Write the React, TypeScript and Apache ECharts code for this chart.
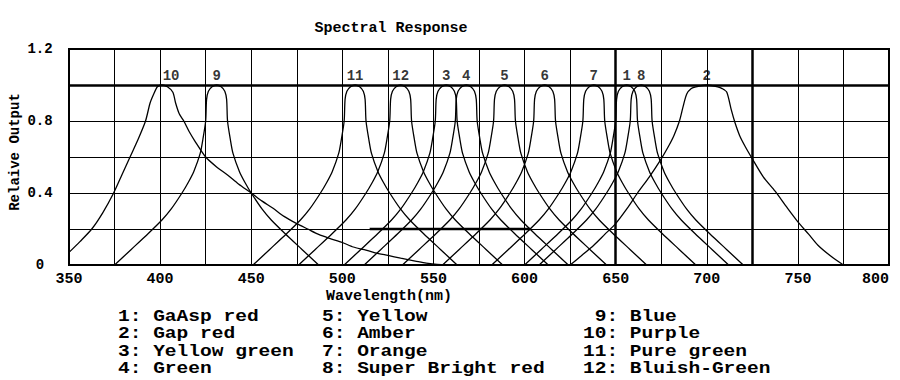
import React, { useEffect, useRef } from 'react';
import * as echarts from 'echarts';

const titleText = 'Spectral Response';
const xAxisName = 'Wavelength(nm)';
const yAxisName = 'Relaive Output';
const xLabelValues = [350, 400, 450, 500, 550, 600, 650, 700, 750, 800];
const yLabelValues = [0, 0.4, 0.8, 1.2];
const thickXLines = [650, 725];
const thickYLines = [1.0];
const plateauSegment: [number, number][] = [[515, 0.2], [603, 0.2]];

// curve points [wavelength nm, relative output]
const curve10: [number, number][] = [[350, 0.07], [356, 0.13], [362.5, 0.2], [368.5, 0.29], [374.5, 0.4], [379, 0.5], [383.5, 0.6], [388, 0.7], [392, 0.8], [394.5, 0.9], [396.5, 0.95], [398.5, 0.99], [401, 1], [404, 0.99], [407, 0.96], [408.5, 0.9], [410.5, 0.84], [413, 0.8], [416, 0.74], [419, 0.69], [425, 0.6], [431, 0.545], [437, 0.5], [443, 0.45], [450, 0.4], [456, 0.355], [462, 0.315], [468, 0.27], [475, 0.23], [481, 0.2], [487, 0.17], [493, 0.148], [500, 0.125], [506, 0.1], [512, 0.085], [518, 0.068], [525, 0.053], [532, 0.038], [540, 0.022], [546, 0.01], [552, 0.003], [567, 0]];
const curve9: [number, number][] = [[375, 0], [384, 0.085], [393.5, 0.175], [401, 0.25], [406, 0.31], [412, 0.4], [415.5, 0.46], [418.5, 0.52], [422, 0.62], [423.5, 0.7], [425, 0.8], [425.5, 0.92], [426.5, 0.965], [428.5, 0.99], [431, 1], [433.5, 0.99], [435.5, 0.965], [436.5, 0.92], [437, 0.8], [438.5, 0.7], [440, 0.62], [443.5, 0.52], [446.5, 0.46], [450, 0.4], [456, 0.31], [461, 0.25], [468.5, 0.175], [478, 0.085], [487, 0]];
const curve11: [number, number][] = [[451, 0], [460, 0.085], [469.5, 0.175], [477, 0.25], [482, 0.31], [488, 0.4], [491.5, 0.46], [494.5, 0.52], [498, 0.62], [499.5, 0.7], [501, 0.8], [501.5, 0.92], [502.5, 0.965], [504.5, 0.99], [507, 1], [509.5, 0.99], [511.5, 0.965], [512.5, 0.92], [513, 0.8], [514.5, 0.7], [516, 0.62], [519.5, 0.52], [522.5, 0.46], [526, 0.4], [532, 0.31], [537, 0.25], [544.5, 0.175], [554, 0.085], [563, 0]];
const curve12: [number, number][] = [[476, 0], [485, 0.085], [494.5, 0.175], [502, 0.25], [507, 0.31], [513, 0.4], [516.5, 0.46], [519.5, 0.52], [523, 0.62], [524.5, 0.7], [526, 0.8], [526.5, 0.92], [527.5, 0.965], [529.5, 0.99], [532, 1], [534.5, 0.99], [536.5, 0.965], [537.5, 0.92], [538, 0.8], [539.5, 0.7], [541, 0.62], [544.5, 0.52], [547.5, 0.46], [551, 0.4], [557, 0.31], [562, 0.25], [569.5, 0.175], [579, 0.085], [588, 0]];
const curve3: [number, number][] = [[501, 0], [510, 0.085], [519.5, 0.175], [527, 0.25], [532, 0.31], [538, 0.4], [541.5, 0.46], [544.5, 0.52], [548, 0.62], [549.5, 0.7], [551, 0.8], [551.5, 0.92], [552.5, 0.965], [554.5, 0.99], [557, 1], [559.5, 0.99], [561.5, 0.965], [562.5, 0.92], [563, 0.8], [564.5, 0.7], [566, 0.62], [569.5, 0.52], [572.5, 0.46], [576, 0.4], [582, 0.31], [587, 0.25], [594.5, 0.175], [604, 0.085], [613, 0]];
const curve4: [number, number][] = [[512, 0], [521, 0.085], [530.5, 0.175], [538, 0.25], [543, 0.31], [549, 0.4], [552.5, 0.46], [555.5, 0.52], [559, 0.62], [560.5, 0.7], [562, 0.8], [562.5, 0.92], [563.5, 0.965], [565.5, 0.99], [568, 1], [570.5, 0.99], [572.5, 0.965], [573.5, 0.92], [574, 0.8], [575.5, 0.7], [577, 0.62], [580.5, 0.52], [583.5, 0.46], [587, 0.4], [593, 0.31], [598, 0.25], [605.5, 0.175], [615, 0.085], [624, 0]];
const curve5: [number, number][] = [[533, 0], [542, 0.085], [551.5, 0.175], [559, 0.25], [564, 0.31], [570, 0.4], [573.5, 0.46], [576.5, 0.52], [580, 0.62], [581.5, 0.7], [583, 0.8], [583.5, 0.92], [584.5, 0.965], [586.5, 0.99], [589, 1], [591.5, 0.99], [593.5, 0.965], [594.5, 0.92], [595, 0.8], [596.5, 0.7], [598, 0.62], [601.5, 0.52], [604.5, 0.46], [608, 0.4], [614, 0.31], [619, 0.25], [626.5, 0.175], [636, 0.085], [645, 0]];
const curve6: [number, number][] = [[555, 0], [564, 0.085], [573.5, 0.175], [581, 0.25], [586, 0.31], [592, 0.4], [595.5, 0.46], [598.5, 0.52], [602, 0.62], [603.5, 0.7], [605, 0.8], [605.5, 0.92], [606.5, 0.965], [608.5, 0.99], [611, 1], [613.5, 0.99], [615.5, 0.965], [616.5, 0.92], [617, 0.8], [618.5, 0.7], [620, 0.62], [623.5, 0.52], [626.5, 0.46], [630, 0.4], [636, 0.31], [641, 0.25], [648.5, 0.175], [658, 0.085], [667, 0]];
const curve7: [number, number][] = [[582, 0], [591, 0.085], [600.5, 0.175], [608, 0.25], [613, 0.31], [619, 0.4], [622.5, 0.46], [625.5, 0.52], [629, 0.62], [630.5, 0.7], [632, 0.8], [632.5, 0.92], [633.5, 0.965], [635.5, 0.99], [638, 1], [640.5, 0.99], [642.5, 0.965], [643.5, 0.92], [644, 0.8], [645.5, 0.7], [647, 0.62], [650.5, 0.52], [653.5, 0.46], [657, 0.4], [663, 0.31], [668, 0.25], [675.5, 0.175], [685, 0.085], [694, 0]];
const curve1: [number, number][] = [[600, 0], [609, 0.085], [618.5, 0.175], [626, 0.25], [631, 0.31], [637, 0.4], [640.5, 0.46], [643.5, 0.52], [647, 0.62], [648.5, 0.7], [650, 0.8], [650.5, 0.92], [651.5, 0.965], [653.5, 0.99], [656, 1], [658.5, 0.99], [660.5, 0.965], [661.5, 0.92], [662, 0.8], [663.5, 0.7], [665, 0.62], [668.5, 0.52], [671.5, 0.46], [675, 0.4], [681, 0.31], [686, 0.25], [693.5, 0.175], [703, 0.085], [712, 0]];
const curve8: [number, number][] = [[608, 0], [617, 0.085], [626.5, 0.175], [634, 0.25], [639, 0.31], [645, 0.4], [648.5, 0.46], [651.5, 0.52], [655, 0.62], [656.5, 0.7], [658, 0.8], [658.5, 0.92], [659.5, 0.965], [661.5, 0.99], [664, 1], [666.5, 0.99], [668.5, 0.965], [669.5, 0.92], [670, 0.8], [671.5, 0.7], [673, 0.62], [676.5, 0.52], [679.5, 0.46], [683, 0.4], [689, 0.31], [694, 0.25], [701.5, 0.175], [711, 0.085], [720, 0]];
const curve2: [number, number][] = [[625, 0], [631, 0.05], [638, 0.11], [644, 0.17], [650, 0.23], [656, 0.31], [662, 0.4], [668.5, 0.49], [675, 0.59], [679, 0.66], [682, 0.72], [685, 0.8], [687, 0.88], [689, 0.95], [691.5, 0.98], [694, 0.99], [700, 1], [706, 0.99], [708.5, 0.98], [711, 0.96], [713.5, 0.86], [715.5, 0.79], [718, 0.72], [721, 0.66], [725, 0.59], [731, 0.49], [737.5, 0.41], [744, 0.32], [750, 0.24], [756, 0.17], [761, 0.11], [768, 0.05], [775, 0]];

const curves = [curve1, curve2, curve3, curve4, curve5, curve6, curve7, curve8, curve9, curve10, curve11, curve12];
const curveNames = ['GaAsp red', 'Gap red', 'Yellow green', 'Green', 'Yellow', 'Amber', 'Orange', 'Super Bright red', 'Blue', 'Purple', 'Pure green', 'Bluish-Green'];

const peakLabelText = ['10', '9', '11', '12', '3', '4', '5', '6', '7', '1', '8', '2'];
const peakLabelX = [406, 431, 507, 532, 557, 568, 589, 611, 638, 656, 664, 700];

const FONT = '"Liberation Mono", "Courier New", monospace';

export default function App() {
  const ref = useRef<HTMLDivElement>(null);
  useEffect(() => {
    if (!ref.current) return;
    const chart = echarts.init(ref.current, undefined, { renderer: 'svg' });

    const legendCols = [118, 322, 583];
    const legendRows = [316, 333.5, 351, 368.5];
    const legendTexts = curveNames.map((n, i) => {
      const num = String(i + 1);
      const col = Math.floor(i / 4);
      const prefix = col === 2 && num.length === 1 ? ' ' + num : num;
      return {
        type: 'text',
        x: legendCols[col],
        y: legendRows[i % 4],
        scaleX: 1.15,
        silent: true,
        style: {
          text: prefix + ': ' + n,
          font: 'bold 17px ' + FONT,
          fill: '#000',
          textAlign: 'left',
          textVerticalAlign: 'middle',
        },
      };
    });

    const option: any = {
      animation: false,
      backgroundColor: '#fff',
      grid: {
        left: 69,
        right: 11,
        top: 49,
        bottom: 115,
        show: true,
        borderColor: '#000',
        borderWidth: 2,
        backgroundColor: 'transparent',
      },
      xAxis: {
        type: 'value',
        min: 350,
        max: 800,
        interval: 25,
        axisLine: { show: false },
        axisTick: { show: false },
        splitLine: { show: true, lineStyle: { color: '#000', width: 1 } },
        axisLabel: {
          formatter: (v: number) => (xLabelValues.includes(v) ? String(v) : ''),
          fontFamily: FONT,
          fontWeight: 'bold',
          fontSize: 15,
          color: '#000',
          margin: 7,
          alignMaxLabel: 'right',
        },
      },
      yAxis: {
        type: 'value',
        min: 0,
        max: 1.2,
        interval: 0.2,
        axisLine: { show: false },
        axisTick: { show: false },
        splitLine: { show: true, lineStyle: { color: '#000', width: 1 } },
        axisLabel: {
          formatter: (v: number) => {
            const hit = yLabelValues.find((t) => Math.abs(t - v) < 1e-6);
            if (hit === undefined) return '';
            return hit === 0 ? '0' : hit.toFixed(1);
          },
          fontFamily: FONT,
          fontWeight: 'bold',
          fontSize: 14,
          color: '#000',
          align: 'center',
          margin: 29,
        },
      },
      graphic: [
        {
          type: 'text',
          x: 391,
          y: 28,
          silent: true,
          style: { text: titleText, font: 'bold 15px ' + FONT, fill: '#000', textAlign: 'center', textVerticalAlign: 'middle' },
        },
        {
          type: 'text',
          x: 389,
          y: 296,
          silent: true,
          style: { text: xAxisName, font: 'bold 15px ' + FONT, fill: '#000', textAlign: 'center', textVerticalAlign: 'middle' },
        },
        {
          type: 'text',
          x: 15,
          y: 152,
          rotation: Math.PI / 2,
          silent: true,
          style: { text: yAxisName, font: 'bold 14px ' + FONT, fill: '#000', textAlign: 'center', textVerticalAlign: 'middle' },
        },
        ...legendTexts,
      ],
      series: [
        ...curves.map((c, i) => ({
          type: 'line',
          name: curveNames[i],
          data: c,
          showSymbol: false,
          symbol: 'none',
          smooth: 0.25,
          silent: true,
          lineStyle: { color: '#000', width: 1.3 },
          z: 3,
        })),
        {
          type: 'line',
          name: 'marks',
          data: plateauSegment,
          showSymbol: false,
          symbol: 'none',
          silent: true,
          lineStyle: { color: '#000', width: 2.5 },
          z: 4,
          markLine: {
            silent: true,
            symbol: ['none', 'none'],
            label: { show: false },
            lineStyle: { color: '#000', width: 2.5, type: 'solid' },
            data: [
              ...thickXLines.map((v) => ({ xAxis: v })),
              ...thickYLines.map((v) => ({ yAxis: v })),
            ],
          },
        },
        {
          type: 'scatter',
          name: 'peaks',
          symbolSize: 0,
          silent: true,
          data: peakLabelX.map((x, i) => ({ value: [x, 1], name: peakLabelText[i] })),
          label: {
            show: true,
            position: 'top',
            distance: 2,
            formatter: '{b}',
            fontFamily: FONT,
            fontWeight: 'bold',
            fontSize: 14,
            color: '#000',
          },
          z: 5,
        },
      ],
    };
    chart.setOption(option);
    return () => chart.dispose();
  }, []);
  return (
    <div
      ref={ref}
      style={{ position: 'absolute', left: 0, top: 0, width: 900, height: 380, background: '#fff' }}
    />
  );
}
